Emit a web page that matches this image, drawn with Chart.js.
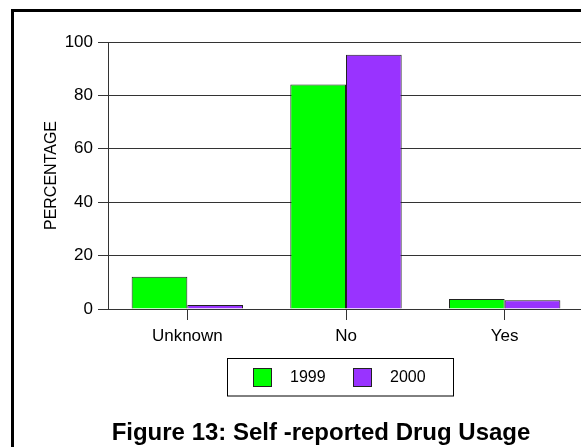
<!DOCTYPE html>
<html>
<head>
<meta charset="utf-8">
<script src="https://cdn.jsdelivr.net/npm/chart.js@4/dist/chart.umd.min.js"></script>
<style>
  html, body { margin: 0; padding: 0; background: #fff; overflow: hidden; }
  #frame { position: absolute; left: 11px; top: 9px; width: 620px; height: 480px; border: 3px solid #000; }
  #wrap { position: absolute; left: 0; top: 0; width: 600px; height: 447px; }
</style>
</head>
<body>
<div id="frame"></div>
<div id="wrap"><canvas id="c" width="600" height="447"></canvas></div>
<script>
// Self-reported drug usage, percentage of respondents by year
const categories = ['Unknown', 'No', 'Yes'];
const years = ['1999', '2000'];
const values1999 = [12.1, 84.1, 3.7];
const values2000 = [1.5, 95.2, 3.3];
const yTicks = [0, 20, 40, 60, 80, 100];
const yAxisTitle = 'PERCENTAGE';
const figureTitle = 'Figure 13: Self -reported Drug Usage';

const seriesColors = ['#00FF00', '#9933FF'];
const FONT = "'Liberation Sans', Arial, Helvetica, sans-serif";

// Boxed legend underneath the axis plus the figure caption
const captionPlugin = {
  id: 'caption',
  afterDraw(chart) {
    const ctx = chart.ctx;
    ctx.save();
    // legend frame
    ctx.strokeStyle = '#000';
    ctx.lineWidth = 1;
    ctx.strokeRect(227.5, 358.5, 226, 37.5);
    ctx.font = '16px ' + FONT;
    ctx.textBaseline = 'middle';
    ctx.textAlign = 'left';
    chart.data.datasets.forEach((ds, i) => {
      const sx = 253.5 + i * 100;
      ctx.fillStyle = ds.backgroundColor;
      ctx.fillRect(sx, 368.5, 18, 18);
      ctx.strokeStyle = '#222';
      ctx.strokeRect(sx, 368.5, 18, 18);
      ctx.fillStyle = '#000';
      ctx.fillText(ds.label, sx + 36.5, 378);
    });
    // caption
    ctx.font = 'bold 24px ' + FONT;
    ctx.textAlign = 'center';
    ctx.fillStyle = '#000';
    ctx.fillText(figureTitle, 321, 433);
    ctx.restore();
  }
};

new Chart(document.getElementById('c'), {
  type: 'bar',
  data: {
    labels: categories,
    datasets: [
      { label: years[0], data: values1999, backgroundColor: seriesColors[0], borderColor: '#222', borderWidth: 1 },
      { label: years[1], data: values2000, backgroundColor: seriesColors[1], borderColor: '#222', borderWidth: 1 }
    ]
  },
  options: {
    responsive: false,
    animation: false,
    events: [],
    layout: { padding: { left: 38, right: 16, top: 42, bottom: 93 } },
    datasets: { bar: { categoryPercentage: 0.702, barPercentage: 1.0 } },
    plugins: {
      legend: { display: false },
      title: { display: false },
      tooltip: { enabled: false }
    },
    scales: {
      x: {
        offset: true,
        grid: { display: true, offset: false, drawOnChartArea: false, drawTicks: true, tickLength: 11, color: '#333', lineWidth: 1 },
        border: { display: true, color: '#333', width: 1 },
        ticks: { color: '#000', font: { family: FONT, size: 17 }, padding: 6, maxRotation: 0 },
        afterFit(scale) { scale.height = 45; }
      },
      y: {
        min: 0,
        max: 100,
        afterBuildTicks(scale) { scale.ticks = yTicks.map(v => ({ value: v })); },
        grid: { color: '#333', lineWidth: 1, drawTicks: true, tickLength: 10 },
        border: { display: true, color: '#333', width: 1 },
        ticks: { color: '#000', font: { family: FONT, size: 17 }, padding: 5 },
        title: { display: true, text: yAxisTitle, color: '#000', font: { family: FONT, size: 16 }, padding: { top: 4, bottom: 0 } },
        afterFit(scale) { scale.width = 70; }
      }
    }
  },
  plugins: [captionPlugin]
});
</script>
</body>
</html>
